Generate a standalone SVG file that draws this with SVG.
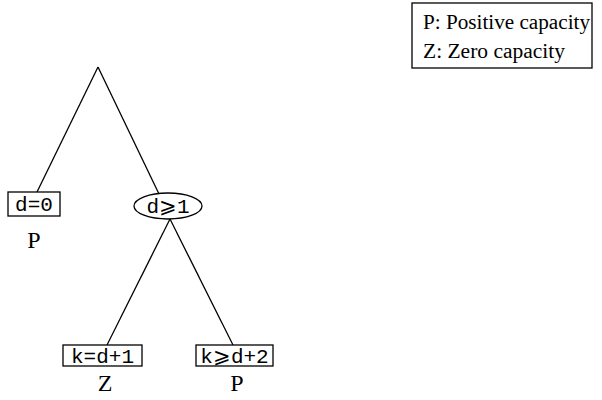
<svg xmlns="http://www.w3.org/2000/svg" width="602" height="400" viewBox="0 0 602 400">
<style>
.ln{stroke:#000;stroke-width:1.3;fill:none}
.bx{stroke:#000;stroke-width:1.3;fill:#fff}
.mono{font-family:"Liberation Mono","DejaVu Sans Mono",monospace;font-size:21px;fill:#000}
.ser{font-family:"Liberation Serif","DejaVu Serif",serif;font-size:24px;fill:#000}
.leg{font-family:"Liberation Serif","DejaVu Serif",serif;font-size:20px;fill:#000}
</style>
<rect width="602" height="400" fill="#fff"/>
<g id="connectors">
<line class="ln" x1="98" y1="67" x2="37" y2="192"/>
<line class="ln" x1="98" y1="67" x2="159" y2="194"/>
<line class="ln" x1="170" y1="219" x2="107" y2="345"/>
<line class="ln" x1="170" y1="219" x2="233" y2="345"/>
</g>
<g id="n-d0">
<rect class="bx" x="8" y="192" width="52" height="24"/>
<text class="mono" x="34" y="211" text-anchor="middle">d=0</text>
<text class="ser" x="34" y="248" text-anchor="middle">P</text>
</g>
<g id="n-dge1">
<ellipse class="bx" cx="168" cy="206" rx="34" ry="13"/>
<text class="mono" x="168" y="213" text-anchor="middle">d⩾1</text>
</g>
<g id="n-k1">
<rect class="bx" x="63" y="345" width="79" height="21"/>
<text class="mono" x="102.5" y="363" text-anchor="middle">k=d+1</text>
<text class="ser" x="105" y="391" text-anchor="middle">Z</text>
</g>
<g id="n-k2">
<rect class="bx" x="196" y="345" width="77" height="21"/>
<text class="mono" x="234.5" y="363" text-anchor="middle">k⩾d+2</text>
<text class="ser" x="237" y="391" text-anchor="middle">P</text>
</g>
<g id="legend">
<rect class="bx" x="412" y="3" width="180" height="65"/>
<text class="leg" x="423" y="29" textLength="167" lengthAdjust="spacingAndGlyphs">P: Positive capacity</text>
<text class="leg" x="423" y="58" textLength="142" lengthAdjust="spacingAndGlyphs">Z: Zero capacity</text>
</g>
</svg>
